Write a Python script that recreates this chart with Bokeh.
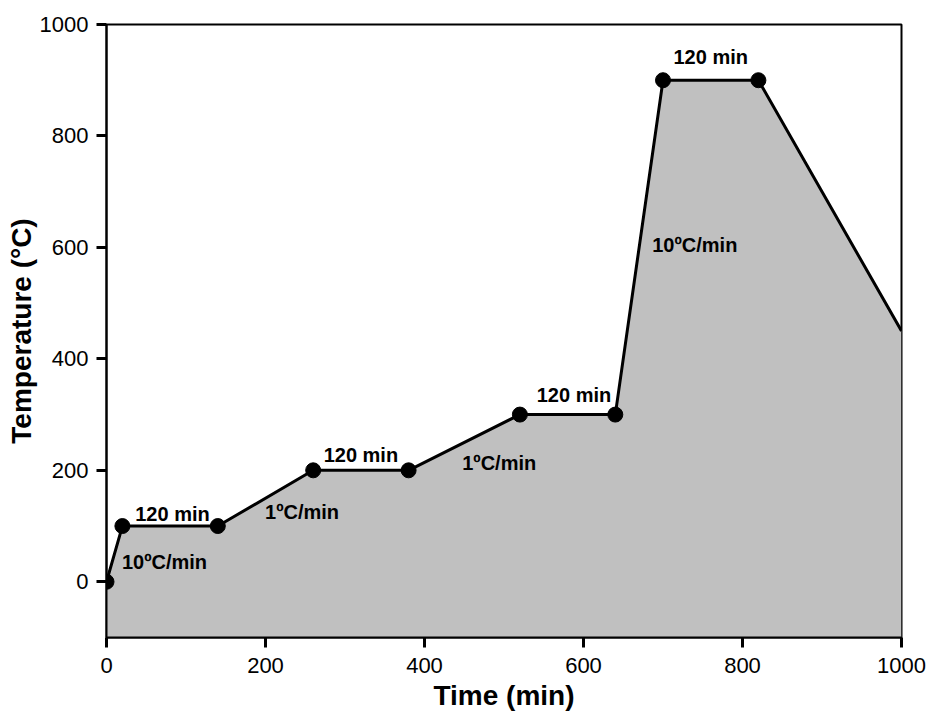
from bokeh.plotting import figure
from bokeh.models import Range1d, FixedTicker, ColumnDataSource
from bokeh.core.properties import value
from bokeh.embed import file_html
from bokeh.resources import INLINE

# Data
time_min = [0, 20, 140, 260, 380, 520, 640, 700, 820, 1000]
temp_c = [0, 100, 100, 200, 200, 300, 300, 900, 900, 450]
marker_time = time_min[:-1]
marker_temp = temp_c[:-1]

label_text = ["10ºC/min", "120 min", "1ºC/min", "120 min", "1ºC/min",
              "120 min", "10ºC/min", "120 min"]
label_x = [73, 83, 246, 320, 494, 588, 740, 760]
label_y = [36, 122, 126, 228, 214, 336, 604, 941]

x_ticks = [0, 200, 400, 600, 800, 1000]
y_ticks = [0, 200, 400, 600, 800, 1000]

FONT = "Liberation Sans"

p = figure(width=931, height=717, output_backend="svg", toolbar_location=None,
           x_range=Range1d(0, 1000), y_range=Range1d(-100, 1000))
p.min_border_left = 106
p.min_border_right = 30
p.min_border_top = 24
p.min_border_bottom = 80
p.background_fill_color = "white"
p.border_fill_color = "white"
p.outline_line_color = "black"
p.outline_line_width = 2
p.xgrid.visible = False
p.ygrid.visible = False

p.varea(x=time_min, y1=[-100] * len(time_min), y2=temp_c, fill_color="#c0c0c0")
p.line(time_min, temp_c, line_color="black", line_width=3)
p.scatter(marker_time, marker_temp, size=15, color="black")

src = ColumnDataSource(dict(x=label_x, y=label_y, t=label_text))
p.text(x="x", y="y", text="t", source=src, text_font=value(FONT),
       text_font_style="bold", text_font_size="20px", text_align="center",
       text_baseline="middle", text_color="black")

for ax in (p.xaxis[0], p.yaxis[0]):
    ax.axis_line_color = "black"
    ax.axis_line_width = 2
    ax.major_tick_line_color = "black"
    ax.major_tick_line_width = 3
    ax.major_tick_in = 0
    ax.major_tick_out = 10
    ax.minor_tick_line_color = None
    ax.major_label_text_font = FONT
    ax.major_label_text_font_size = "22px"
    ax.major_label_text_color = "black"
    ax.axis_label_text_font = FONT
    ax.axis_label_text_font_style = "bold"
    ax.axis_label_text_font_size = "28px"
    ax.axis_label_text_color = "black"

p.xaxis[0].ticker = FixedTicker(ticks=x_ticks)
p.yaxis[0].ticker = FixedTicker(ticks=y_ticks)
p.xaxis[0].axis_label = "Time (min)"
p.yaxis[0].axis_label = "Temperature (°C)"
p.xaxis[0].major_label_standoff = 10
p.yaxis[0].major_label_standoff = 8
p.xaxis[0].axis_label_standoff = 4
p.yaxis[0].axis_label_standoff = 0

open("out.html", "w").write(file_html(p, INLINE))
